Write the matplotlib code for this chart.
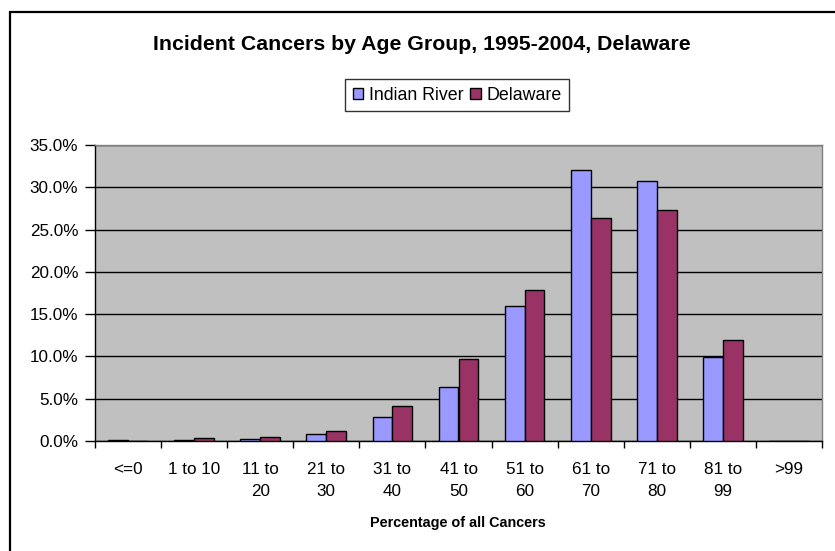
import matplotlib
matplotlib.use("Agg")
import matplotlib.pyplot as plt
import numpy as np
from matplotlib.patches import Rectangle

plt.rcParams['font.family'] = ['Liberation Sans', 'DejaVu Sans']

categories = ["<=0", "1 to 10", "11 to\n20", "21 to\n30", "31 to\n40", "41 to\n50",
              "51 to\n60", "61 to\n70", "71 to\n80", "81 to\n99", ">99"]
indian_river = [0.1, 0.1, 0.25, 0.85, 2.8, 6.4, 16.0, 32.1, 30.8, 9.9, 0.0]
delaware = [0.0, 0.3, 0.5, 1.15, 4.1, 9.7, 17.9, 26.4, 27.3, 12.0, 0.0]
series_names = ["Indian River", "Delaware"]
yticks = [0, 5, 10, 15, 20, 25, 30, 35]

W, H = 835, 551
fig = plt.figure(figsize=(W/100, H/100), dpi=100)
fig.patch.set_facecolor("white")

# outer chart frame (extends beyond the image at right/bottom)
fig.patches.append(Rectangle((10/W, -0.1), 1.2, (H-12)/H + 0.1, transform=fig.transFigure,
                             fill=False, edgecolor="black", linewidth=1.6, zorder=0))

left, right, top, bottom = 95, 822, 145, 441
ax = fig.add_axes([left/W, 1-bottom/H, (right-left)/W, (bottom-top)/H])
ax.set_facecolor("#C0C0C0")

x = np.arange(len(categories))
bw = 0.3
b1 = ax.bar(x - bw/2, indian_river, bw, color="#9999FF", edgecolor="black", linewidth=1.0, zorder=3,
            label=series_names[0])
b2 = ax.bar(x + bw/2, delaware, bw, color="#993366", edgecolor="black", linewidth=1.0, zorder=3,
            label=series_names[1])

ax.set_xlim(-0.5, len(categories) - 0.5)
ax.set_ylim(0, 35)
ax.set_yticks(yticks)
ax.set_yticklabels([f"{v:.1f}%" for v in yticks], fontsize=12.3)
ax.yaxis.grid(True, color="black", linewidth=1.0, zorder=1)
ax.set_axisbelow(True)

ax.set_xticks(np.arange(len(categories) + 1) - 0.5)
ax.set_xticklabels([])
ax.set_xticks(x, minor=True)
ax.set_xticklabels(categories, minor=True, fontsize=12.3, linespacing=1.6, va="top")
ax.tick_params(axis="x", which="major", direction="out", length=5, width=1, color="black")
ax.tick_params(axis="x", which="minor", length=0, pad=15)
ax.tick_params(axis="y", direction="out", length=7, width=1, pad=5)

for s in ["left", "bottom"]:
    ax.spines[s].set_color("black")
    ax.spines[s].set_linewidth(1.0)
for s in ["top", "right"]:
    ax.spines[s].set_color("#808080")
    ax.spines[s].set_linewidth(1.0)

fig.text(422/W, 1-45/H, "Incident Cancers by Age Group, 1995-2004, Delaware",
         ha="center", va="center", fontsize=15.3, fontweight="bold")
fig.text(458/W, 1-523/H, "Percentage of all Cancers", ha="center", va="center",
         fontsize=10.4, fontweight="bold")

leg = fig.legend(handles=[b1, b2], loc="center", bbox_to_anchor=(457/W, 1-95/H),
                 ncol=2, frameon=True, fancybox=False, fontsize=12.8,
                 handlelength=0.6, handleheight=0.6, handletextpad=0.3,
                 columnspacing=0.4, borderpad=0.4, edgecolor="black")
leg.get_frame().set_linewidth(1.0)

fig.savefig("out.png", dpi=100, facecolor="white")
